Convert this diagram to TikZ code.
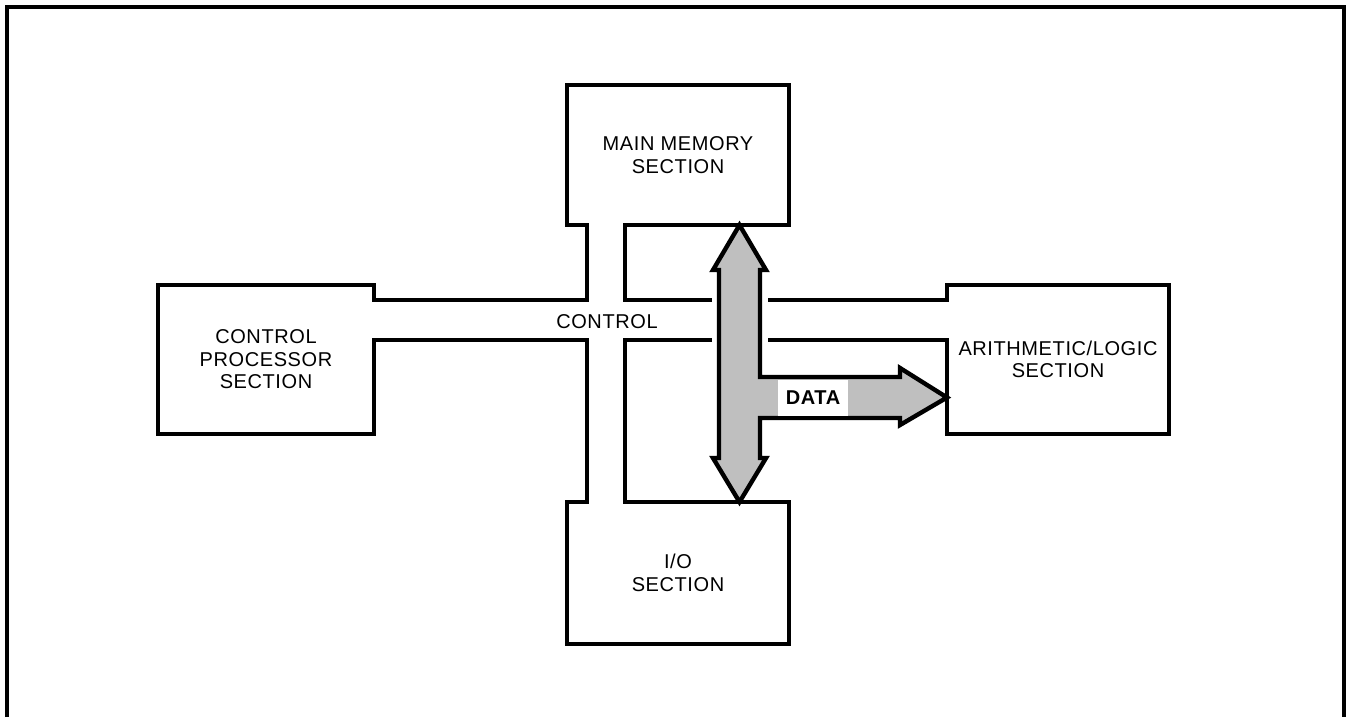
\documentclass[tikz,border=0pt]{standalone}
\usepackage{fontspec}
\setmainfont{Liberation Sans}[LetterSpace=3]
\begin{document}
\begin{tikzpicture}[x=0.5pt,y=-0.5pt,line width=1.8pt,
  box/.style={draw,outer sep=0pt,inner sep=0pt,align=center,
    font=\fontsize{10}{11.25}\selectfont},
  buslabel/.style={font=\fontsize{10}{11.25}\selectfont},
  databus/.style={fill=black!25,draw=black,line width=2.2pt,line join=miter}]
\useasboundingbox (0,0) rectangle (1348,717);
% frame
\draw[line width=2pt] (7,717) -- (7,7) -- (1344,7) -- (1344,717);
% sections
\node[box,minimum width=111pt,minimum height=70pt] (mem) at (678,155) {MAIN MEMORY\\SECTION};
\node[box,minimum width=108pt,minimum height=74.5pt] (cps) at (266,359.5) {CONTROL\\PROCESSOR\\SECTION};
\node[box,minimum width=111pt,minimum height=74.5pt] (alu) at (1058,359.5) {ARITHMETIC/LOGIC\\SECTION};
\node[box,minimum width=111pt,minimum height=71pt] (io) at (678,573) {I/O\\SECTION};
% control bus
\coordinate (vl) at (587,0);
\coordinate (vr) at (625,0);
\coordinate (ht) at (0,300);
\coordinate (hb) at (0,340);
\coordinate (gapL) at (712,0);
\coordinate (gapR) at (768,0);
\fill[white] (589,220) rectangle (623,507);
\fill[white] (369,302) rectangle (952,338);
\draw (mem.south -| vl) -- (vl |- ht) -- (cps.east |- ht);
\draw (cps.east |- hb) -- (vl |- hb) -- (io.north -| vl);
\draw (mem.south -| vr) -- (vr |- ht) -- (gapL |- ht);
\draw (gapR |- ht) -- (alu.west |- ht);
\draw (io.north -| vr) -- (vr |- hb) -- (gapL |- hb);
\draw (gapR |- hb) -- (alu.west |- hb);
\node[buslabel] (ctl) at (607,322) {CONTROL};
% data bus
\coordinate (dx) at (739.5,0);
\coordinate (dy) at (0,397.5);
\draw[databus] (mem.south -| dx) -- (766,270) -- (760,270) -- (760,377)
  -- (900,377) -- (900,368) -- (alu.west |- dy) -- (900,425) -- (900,418)
  -- (760,418) -- (760,458) -- (766,458) -- (io.north -| dx) -- (713,458)
  -- (719,458) -- (719,270) -- (713,270) -- cycle;
\node[fill=white,inner sep=0pt,minimum width=35pt,minimum height=18pt,
  font=\fontsize{10}{11.25}\selectfont\bfseries] (data) at (813,398) {DATA};
\end{tikzpicture}
\end{document}
